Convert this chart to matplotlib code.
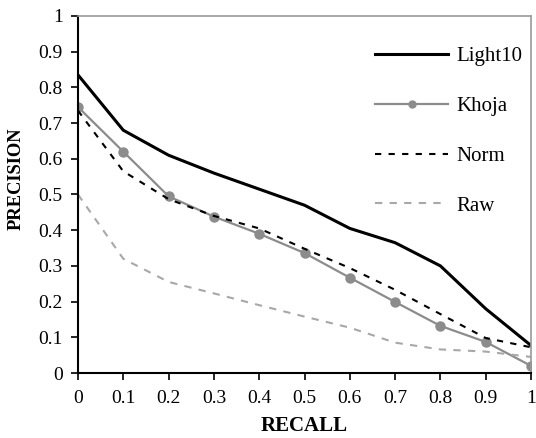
import numpy as np
import matplotlib
matplotlib.use("Agg")
import matplotlib.pyplot as plt

plt.rcParams['font.family'] = ['Liberation Serif', 'DejaVu Serif']

recall = [0, 0.1, 0.2, 0.3, 0.4, 0.5, 0.6, 0.7, 0.8, 0.9, 1]
light10 = [0.835, 0.68, 0.61, 0.56, 0.515, 0.47, 0.405, 0.365, 0.30, 0.18, 0.077]
khoja = [0.745, 0.62, 0.495, 0.438, 0.39, 0.336, 0.267, 0.199, 0.132, 0.087, 0.02]
norm = [0.735, 0.565, 0.487, 0.44, 0.405, 0.348, 0.294, 0.233, 0.165, 0.098, 0.072]
raw = [0.5, 0.32, 0.255, 0.223, 0.19, 0.158, 0.127, 0.085, 0.066, 0.06, 0.045]
tick_labels = ['0', '0.1', '0.2', '0.3', '0.4', '0.5', '0.6', '0.7', '0.8', '0.9', '1']

fig = plt.figure(figsize=(5.36, 4.38), dpi=100)
ax = fig.add_axes([0.1455, 0.1484, 0.8452, 0.8151])

ax.plot(recall, light10, color='black', lw=2.2, label='Light10')
ax.plot(recall, khoja, color='#8c8c8c', lw=1.6, marker='o', ms=6.5, label='Khoja')
ax.plot(recall, norm, color='black', lw=1.5, ls=(0, (3, 3.5)), label='Norm')
ax.plot(recall, raw, color='#a8a8a8', lw=1.5, ls=(0, (3.5, 3.5)), label='Raw')

ax.set_xlim(0, 1)
ax.set_ylim(0, 1)
ax.set_xticks(np.arange(0, 1.01, 0.1))
ax.set_yticks(np.arange(0, 1.01, 0.1))
ax.set_xticklabels(tick_labels)
ax.set_yticklabels(tick_labels)
ax.tick_params(direction='out', length=5, width=1.2, labelsize=14, colors='black')
ax.tick_params(axis='x', pad=7)
ax.tick_params(axis='y', pad=6)

for s in ['left', 'bottom']:
    ax.spines[s].set_linewidth(1.5)
    ax.spines[s].set_color('black')
for s in ['top', 'right']:
    ax.spines[s].set_linewidth(1.2)
    ax.spines[s].set_color('#999999')

ax.set_xlabel('RECALL', fontsize=15, fontweight='bold', labelpad=7)
ax.set_ylabel('PRECISION', fontsize=13.3, fontweight='bold')
ax.yaxis.set_label_coords(-0.117, 0.543)

leg = ax.legend(loc='upper right', frameon=False, fontsize=15, handlelength=3.5,
                labelspacing=1.45, handletextpad=0.4, borderaxespad=0,
                bbox_to_anchor=(1.0, 0.9374))
leg.legend_handles[1].set_markevery([1])
leg.legend_handles[1].set_markersize(5)

fig.savefig('out.png', dpi=100)
